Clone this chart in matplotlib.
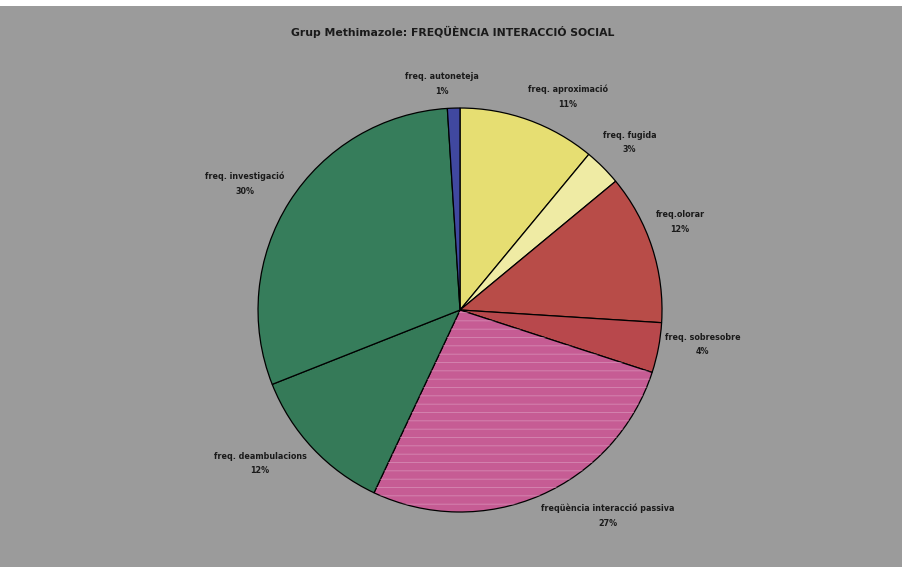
import numpy as np
import matplotlib.pyplot as plt
from matplotlib.patches import Wedge

# data (clockwise from 12 o'clock)
categories = ['freq. aproximació', 'freq. fugida', 'freq.olorar', 'freq. sobresobre',
              'freqüència interacció passiva', 'freq. deambulacions',
              'freq. investigació', 'freq. autoneteja']
percent = [11, 3, 12, 4, 27, 12, 30, 1]
colors = ['#e6de72', '#efeba4', '#b84c48', '#b8484c', '#c65c94', '#357a58', '#367d5b', '#4048a0']

title = 'Grup Methimazole: FREQÜÈNCIA INTERACCIÓ SOCIAL'
font = ['DejaVu Sans Condensed', 'Liberation Sans Narrow', 'DejaVu Sans']

plt.rcParams['hatch.linewidth'] = 0.6

fig = plt.figure(figsize=(9.02, 5.67), dpi=100, facecolor='#9b9b9b')
ax = fig.add_axes([0.286, 0.097, 0.448, 0.7125])
ax.set_facecolor('none')

wedges, _ = ax.pie(percent, colors=colors, startangle=90, counterclock=False,
                   wedgeprops=dict(edgecolor='black', linewidth=0.9))

# speckled texture on the passive interaction slice
w = wedges[4]
ax.add_patch(Wedge(w.center, w.r, w.theta1, w.theta2, facecolor='none',
                   edgecolor='#dc9cc0', hatch='--', linewidth=0, alpha=0.7))

# label positions in pie radius units (placed like the original)
label_pos = [(0.535, 1.055), (0.84, 0.83), (1.09, 0.435), (1.20, -0.17),
             (0.73, -1.02), (-0.99, -0.76), (-1.064, 0.624), (-0.09, 1.12)]
for lab, p, (x, y) in zip(categories, percent, label_pos):
    ax.text(x, y, f'{lab}\n{p}%', ha='center', va='center',
            fontsize=5.8, fontweight='bold', family=font, color='#1a1a1a',
            linespacing=1.8)

ax.set_xlim(-1, 1)
ax.set_ylim(-1, 1)
ax.set_aspect('equal')

fig.text(0.502, 0.944, title, ha='center', va='center', fontsize=7.8,
         fontweight='bold', family=font, color='#1a1a1a')

# white strip at the top of the scan
fig.patches.append(plt.Rectangle((0, 0.99), 1, 0.01, transform=fig.transFigure,
                                 facecolor='white', edgecolor='none'))

fig.savefig('out.png', dpi=100, facecolor=fig.get_facecolor())
